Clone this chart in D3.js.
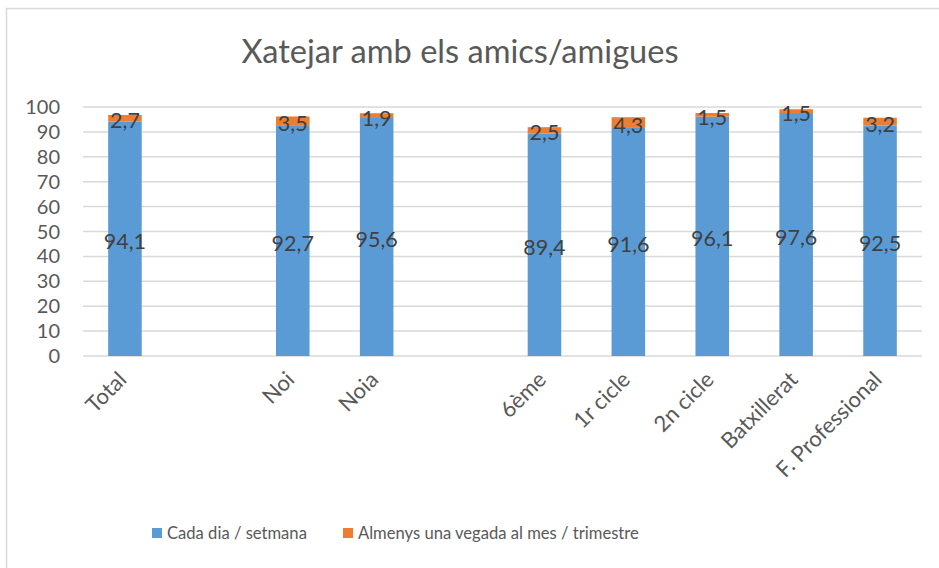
<!DOCTYPE html>
<html>
<head>
<meta charset="utf-8">
<script src="https://cdn.jsdelivr.net/npm/d3@7"></script>
<style>
    body { margin: 0; background: #fff; }
    text { font-family: Lato, "Open Sans", sans-serif; }
</style>
</head>
<body>
<div id="chart"></div>
<script>
// data
const categories = ["Total", "", "Noi", "Noia", "", "6ème", "1r cicle", "2n cicle", "Batxillerat", "F. Professional"];
const dailyWeekly = [94.1, null, 92.7, 95.6, null, 89.4, 91.6, 96.1, 97.6, 92.5];
const monthlyTerm = [2.7, null, 3.5, 1.9, null, 2.5, 4.3, 1.5, 1.5, 3.2];
const seriesNames = ["Cada dia / setmana", "Almenys una vegada al mes / trimestre"];
const seriesColors = ["#5b9bd5", "#ed7d31"];
const yTicks = [0, 10, 20, 30, 40, 50, 60, 70, 80, 90, 100];
const chartTitle = "Xatejar amb els amics/amigues";

const W = 939, H = 568;
const margin = {top: 107, right: 17, bottom: 212, left: 83};
const width = W - margin.left - margin.right;
const height = H - margin.top - margin.bottom;

const svg = d3.select("#chart").append("svg")
    .attr("width", W)
    .attr("height", H);

// chart frame
svg.append("rect")
    .attr("x", 6.5).attr("y", 8.5)
    .attr("width", W).attr("height", H)
    .attr("fill", "none")
    .attr("stroke", "#d9d9d9")
    .attr("stroke-width", 1.5);

svg.append("text")
    .attr("x", 460).attr("y", 63)
    .attr("text-anchor", "middle")
    .attr("font-size", 32.6)
    .attr("fill", "#595959")
    .text(chartTitle);

const g = svg.append("g")
    .attr("transform", `translate(${margin.left}, ${margin.top})`);

// rows by index so the empty gap slots stay distinct
const rows = categories.map((c, i) => ({idx: i, name: c, a: dailyWeekly[i], b: monthlyTerm[i]}));

const x = d3.scaleBand()
    .domain(rows.map(d => d.idx))
    .range([0, width])
    .paddingInner(0.6)
    .paddingOuter(0.3);

const y = d3.scaleLinear()
    .domain([0, 100])
    .range([height, 0]);

// gridlines
g.append("g")
    .selectAll("line")
    .data(yTicks)
    .join("line")
    .attr("x1", 0).attr("x2", width)
    .attr("y1", d => y(d)).attr("y2", d => y(d))
    .attr("stroke", "#d9d9d9")
    .attr("stroke-width", 1.5);

// y tick labels
g.append("g")
    .selectAll("text")
    .data(yTicks)
    .join("text")
    .attr("x", -23)
    .attr("y", d => y(d))
    .attr("dy", "0.35em")
    .attr("text-anchor", "end")
    .attr("font-size", 20)
    .attr("fill", "#595959")
    .text(d => d);

// stacked bars
const stack = d3.stack().keys(["a", "b"]);
const stacked = stack(rows.filter(d => d.a != null));

const layers = g.selectAll(".layer")
    .data(stacked)
    .join("g")
    .attr("class", "layer")
    .attr("fill", (d, i) => seriesColors[i]);

layers.selectAll("rect")
    .data(d => d)
    .join("rect")
    .attr("x", d => x(d.data.idx))
    .attr("y", d => y(d[1]))
    .attr("width", x.bandwidth())
    .attr("height", d => y(d[0]) - y(d[1]));

// data labels
layers.selectAll("text")
    .data(d => d.map(v => ({v, key: d.key})))
    .join("text")
    .attr("x", d => x(d.v.data.idx) + x.bandwidth() / 2)
    .attr("y", d => y((d.v[0] + d.v[1]) / 2) + 2.5)
    .attr("dy", "0.35em")
    .attr("text-anchor", "middle")
    .attr("font-size", 21.5)
    .attr("fill", "#404040")
    .text(d => String(d.v.data[d.key]).replace(".", ","));

// x labels
g.append("g")
    .selectAll("text")
    .data(rows.filter(d => d.name !== ""))
    .join("text")
    .attr("transform", d => `translate(${x(d.idx) + x.bandwidth() / 2 + 3}, ${height + 25}) rotate(-45)`)
    .attr("text-anchor", "end")
    .attr("font-size", 22)
    .attr("fill", "#595959")
    .text(d => d.name);

// legend
const legendX = [152, 343];
const legend = svg.append("g")
    .selectAll("g")
    .data(seriesNames)
    .join("g")
    .attr("transform", (d, i) => `translate(${legendX[i]}, 528)`);

legend.append("rect")
    .attr("width", 10).attr("height", 10)
    .attr("fill", (d, i) => seriesColors[i]);

legend.append("text")
    .attr("x", 15).attr("y", 5)
    .attr("dy", "0.35em")
    .attr("font-size", 16.6)
    .attr("fill", "#595959")
    .text(d => d);
</script>
</body>
</html>
